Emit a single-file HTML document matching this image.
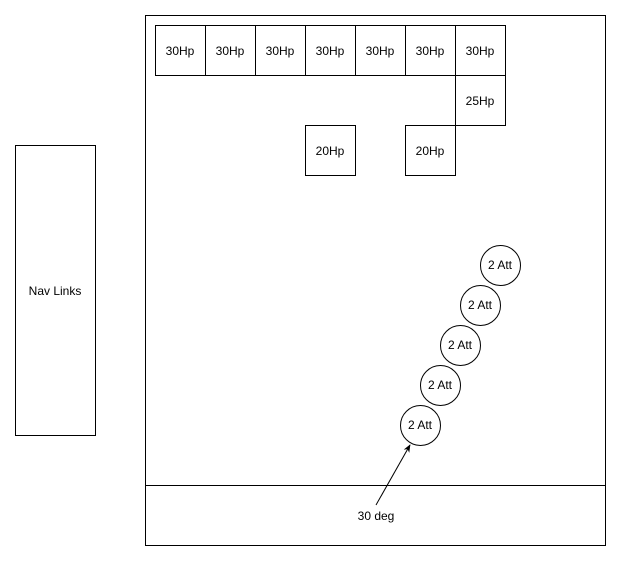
<!DOCTYPE html>
<html><head><meta charset="utf-8"><style>
body{margin:0;background:#fff;width:621px;height:561px;overflow:hidden}
svg text{font-family:"Liberation Sans",Helvetica,sans-serif;font-size:12px;fill:#000}
</style></head><body>
<svg width="621" height="561" xmlns="http://www.w3.org/2000/svg">
<defs><marker id="a" viewBox="0 0 10 10" refX="9" refY="5" markerWidth="8" markerHeight="8" orient="auto"><path d="M0,1 L10,5 L0,9 L3,5 Z" fill="#000"/></marker></defs>
<g fill="none" stroke="#000" stroke-width="1">
<rect x="15.5" y="145.5" width="80" height="290"/>
<rect x="145.5" y="15.5" width="460" height="530"/>
<line x1="145" y1="485.5" x2="606" y2="485.5"/>
<rect x="155.5" y="25.5" width="50" height="50"/>
<rect x="205.5" y="25.5" width="50" height="50"/>
<rect x="255.5" y="25.5" width="50" height="50"/>
<rect x="305.5" y="25.5" width="50" height="50"/>
<rect x="355.5" y="25.5" width="50" height="50"/>
<rect x="405.5" y="25.5" width="50" height="50"/>
<rect x="455.5" y="25.5" width="50" height="50"/>
<rect x="455.5" y="75.5" width="50" height="50"/>
<rect x="305.5" y="125.5" width="50" height="50"/>
<rect x="405.5" y="125.5" width="50" height="50"/>
<circle cx="500.5" cy="265.5" r="20"/>
<circle cx="480.5" cy="305.5" r="20"/>
<circle cx="460.5" cy="345.5" r="20"/>
<circle cx="440.5" cy="385.5" r="20"/>
<circle cx="420.5" cy="425.5" r="20"/>
<line x1="376" y1="505" x2="410" y2="445" marker-end="url(#a)"/>
</g>
<g text-anchor="middle">
<text x="55" y="295">Nav Links</text>
<text x="180" y="55">30Hp</text><text x="230" y="55">30Hp</text><text x="280" y="55">30Hp</text>
<text x="330" y="55">30Hp</text><text x="380" y="55">30Hp</text><text x="430" y="55">30Hp</text>
<text x="480" y="55">30Hp</text><text x="480" y="105">25Hp</text>
<text x="330" y="155">20Hp</text><text x="430" y="155">20Hp</text>
<text x="500" y="269">2 Att</text><text x="480" y="309">2 Att</text><text x="460" y="349">2 Att</text>
<text x="440" y="389">2 Att</text><text x="420" y="429">2 Att</text>
<text x="376" y="520">30 deg</text>
</g>
</svg>
</body></html>
